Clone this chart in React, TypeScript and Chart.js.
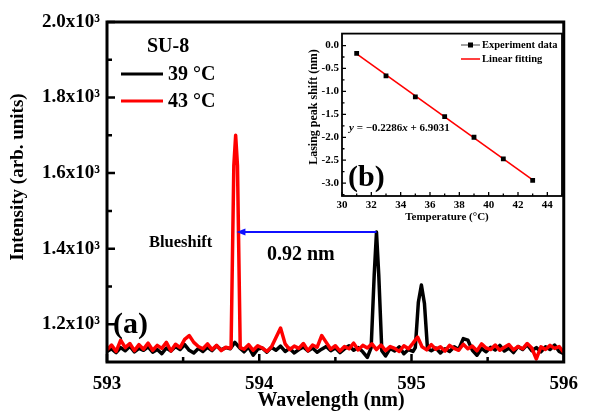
import React, { useEffect, useRef } from 'react';
import { Chart, registerables } from 'chart.js';

Chart.register(...registerables);

// ---------- main spectrum data ----------
const wavelengths = [
  593.00, 593.03, 593.06, 593.09, 593.12, 593.15, 593.18, 593.21, 593.24, 593.27,
  593.30, 593.33, 593.36, 593.39, 593.42, 593.45, 593.48, 593.51, 593.54, 593.57,
  593.60, 593.63, 593.66, 593.69, 593.72, 593.75, 593.78, 593.81, 593.84, 593.87,
  593.90, 593.93, 593.96, 593.99, 594.02, 594.05, 594.08, 594.11, 594.14, 594.17,
  594.20, 594.23, 594.26, 594.29, 594.32, 594.35, 594.38, 594.41, 594.44, 594.47,
  594.50, 594.53, 594.56, 594.59, 594.62, 594.65, 594.68, 594.71, 594.74, 594.77,
  594.80, 594.83, 594.86, 594.89, 594.92, 594.95, 594.98, 595.01, 595.04, 595.07,
  595.10, 595.13, 595.16, 595.19, 595.22, 595.25, 595.28, 595.31, 595.34, 595.37,
  595.40, 595.43, 595.46, 595.49, 595.52, 595.55, 595.58, 595.61, 595.64, 595.67,
  595.70, 595.73, 595.76, 595.79, 595.82, 595.85, 595.88, 595.91, 595.94, 595.97,
  596.00,
];

const intensity39 = [
  1128, 1135, 1125, 1138, 1130, 1142, 1127, 1136, 1131, 1140,
  1126, 1133, 1122, 1137, 1129, 1141, 1133, 1146, 1131, 1124,
  1136, 1128, 1139, 1130, 1143, 1132, 1138, 1135, 1152, 1138,
  1127, 1140, 1118, 1134, 1137, 1126, 1139, 1131, 1142, 1128,
  1136, 1124, 1133, 1140, 1129, 1137, 1126, 1134, 1141, 1130,
  1137, 1125, 1135, 1143, 1131, 1138, 1127, 1112, 1140, 1444,
  1140, 1116, 1136, 1129, 1140, 1122, 1133, 1128, 1140, 1304,
  1140, 1130, 1137, 1124, 1135, 1128, 1140, 1133, 1162, 1158,
  1131, 1118, 1136, 1127, 1139, 1132, 1144, 1129, 1137, 1125,
  1141, 1133, 1146, 1130, 1138, 1127, 1140, 1133, 1145, 1128,
  1122,
];

const intensity43 = [
  1132, 1145, 1128, 1158, 1138, 1149, 1130, 1146, 1134, 1150,
  1131, 1144, 1136, 1152, 1129, 1147, 1138, 1160, 1170, 1152,
  1141, 1135, 1148, 1133, 1144, 1130, 1139, 1136, 1700, 1140,
  1134, 1146, 1131, 1143, 1137, 1128, 1140, 1165, 1190, 1148,
  1133, 1142, 1136, 1149, 1130, 1145, 1139, 1170, 1152, 1134,
  1143, 1129, 1141, 1135, 1150, 1132, 1144, 1137, 1148, 1133,
  1145, 1130, 1141, 1136, 1128, 1143, 1135, 1150, 1166, 1140,
  1132, 1146, 1134, 1140, 1129, 1144, 1136, 1131, 1147, 1135,
  1142, 1130, 1148, 1137, 1133, 1145, 1131, 1139, 1146, 1132,
  1141, 1135, 1149, 1137, 1108, 1140, 1133, 1144, 1136, 1141,
  1125,
];

// laser peaks (finer sampling)
const peak39aX = [594.735, 594.755, 594.77, 594.785, 594.805];
const peak39aY = [1138, 1330, 1444, 1330, 1130];
const peak39bX = [595.025, 595.045, 595.065, 595.085, 595.105];
const peak39bY = [1138, 1258, 1304, 1255, 1135];
const peak43X = [593.815, 593.833, 593.845, 593.857, 593.875];
const peak43Y = [1140, 1620, 1700, 1620, 1138];

const xTicks = [593, 594, 595, 596];
const xMinorTicks = [593.5, 594.5, 595.5];
const yTicks = [1200, 1400, 1600, 1800, 2000];
const yMinorTicks = [1300, 1500, 1700, 1900];

const shiftFrom = 594.77;
const shiftTo = 593.85;
const shiftLevel = 1444;

// ---------- inset data ----------
const temperature = [31, 33, 35, 37, 39, 41, 43];
const peakShift = [-0.17, -0.66, -1.12, -1.55, -2.0, -2.47, -2.94];
const fitX = [31, 43];
const fitY = [-0.184, -2.927];
const insetXTicks = [30, 32, 34, 36, 38, 40, 42, 44];
const insetXMinor = [31, 33, 35, 37, 39, 41, 43, 45];
const insetYTicks = [0, -0.5, -1.0, -1.5, -2.0, -2.5, -3.0];
const insetYMinor = [-0.25, -0.75, -1.25, -1.75, -2.25, -2.75, -3.25];

const SERIF = "'Liberation Serif', 'Times New Roman', Times, serif";

function buildSeries(base: number[], peaks: [number[], number[]][]) {
  const pts = wavelengths
    .map((x, i) => ({ x, y: base[i] }))
    .filter((p) => !peaks.some(([px]) => p.x > px[0] && p.x < px[px.length - 1]));
  peaks.forEach(([px, py]) => px.forEach((x, i) => pts.push({ x, y: py[i] })));
  pts.sort((a, b) => a.x - b.x);
  return pts;
}

const mainPlugin = {
  id: 'mainDecor',
  afterDraw(chart: any) {
    const { ctx, chartArea: a, scales } = chart;
    const xs = scales.x;
    const ys = scales.y;
    ctx.save();
    // frame
    ctx.strokeStyle = '#000';
    ctx.lineWidth = 3;
    ctx.strokeRect(a.left, a.top, a.right - a.left, a.bottom - a.top);
    // inward ticks
    ctx.lineWidth = 2.5;
    ctx.beginPath();
    xTicks.forEach((v) => {
      const p = xs.getPixelForValue(v);
      ctx.moveTo(p, a.bottom);
      ctx.lineTo(p, a.bottom - 8);
    });
    xMinorTicks.forEach((v) => {
      const p = xs.getPixelForValue(v);
      ctx.moveTo(p, a.bottom);
      ctx.lineTo(p, a.bottom - 5);
    });
    yTicks.forEach((v) => {
      const p = ys.getPixelForValue(v);
      ctx.moveTo(a.left, p);
      ctx.lineTo(a.left + 8, p);
    });
    yMinorTicks.forEach((v) => {
      const p = ys.getPixelForValue(v);
      ctx.moveTo(a.left, p);
      ctx.lineTo(a.left + 5, p);
    });
    ctx.stroke();

    // axis titles
    ctx.fillStyle = '#000';
    ctx.font = `bold 20px ${SERIF}`;
    ctx.textAlign = 'center';
    ctx.textBaseline = 'middle';
    ctx.fillText('Wavelength (nm)', 331, 401);
    ctx.save();
    ctx.translate(18, 177);
    ctx.rotate(-Math.PI / 2);
    ctx.font = `bold 19px ${SERIF}`;
    ctx.fillText('Intensity (arb. units)', 0, 0);
    ctx.restore();

    // legend
    ctx.textAlign = 'left';
    ctx.font = `bold 20px ${SERIF}`;
    ctx.fillText('SU-8', 147, 47);
    ctx.lineWidth = 3;
    ctx.strokeStyle = '#000';
    ctx.beginPath();
    ctx.moveTo(121, 74);
    ctx.lineTo(163, 74);
    ctx.stroke();
    ctx.fillText('39 \u00B0C', 168, 75);
    ctx.strokeStyle = '#ff0000';
    ctx.beginPath();
    ctx.moveTo(121, 101);
    ctx.lineTo(163, 101);
    ctx.stroke();
    ctx.fillText('43 \u00B0C', 168, 102);

    // blueshift arrow
    const x1 = xs.getPixelForValue(shiftFrom);
    const x0 = xs.getPixelForValue(shiftTo);
    const yy = ys.getPixelForValue(shiftLevel);
    ctx.strokeStyle = '#1010ff';
    ctx.fillStyle = '#1010ff';
    ctx.lineWidth = 2;
    ctx.beginPath();
    ctx.moveTo(x1, yy);
    ctx.lineTo(x0 + 7, yy);
    ctx.stroke();
    ctx.beginPath();
    ctx.moveTo(x0, yy);
    ctx.lineTo(x0 + 9, yy - 3.5);
    ctx.lineTo(x0 + 9, yy + 3.5);
    ctx.closePath();
    ctx.fill();

    ctx.fillStyle = '#000';
    ctx.font = `bold 16.5px ${SERIF}`;
    ctx.fillText('Blueshift', 149, 243);
    ctx.font = `bold 20px ${SERIF}`;
    ctx.fillText('0.92 nm', 267, 255);
    ctx.font = `bold 30px ${SERIF}`;
    ctx.fillText('(a)', 113, 325);
    ctx.restore();
  },
};

const insetPlugin = {
  id: 'insetDecor',
  afterDraw(chart: any) {
    const { ctx, chartArea: a, scales } = chart;
    const xs = scales.x;
    const ys = scales.y;
    ctx.save();
    ctx.strokeStyle = '#000';
    ctx.lineWidth = 1.8;
    ctx.strokeRect(a.left, a.top, a.right - a.left, a.bottom - a.top);
    ctx.lineWidth = 1.3;
    ctx.beginPath();
    insetXTicks.forEach((v) => {
      const p = xs.getPixelForValue(v);
      ctx.moveTo(p, a.bottom);
      ctx.lineTo(p, a.bottom - 4);
    });
    insetXMinor.forEach((v) => {
      const p = xs.getPixelForValue(v);
      ctx.moveTo(p, a.bottom);
      ctx.lineTo(p, a.bottom - 2.5);
    });
    insetYTicks.forEach((v) => {
      const p = ys.getPixelForValue(v);
      ctx.moveTo(a.left, p);
      ctx.lineTo(a.left + 4, p);
    });
    insetYMinor.forEach((v) => {
      const p = ys.getPixelForValue(v);
      if (p > a.bottom || p < a.top) return;
      ctx.moveTo(a.left, p);
      ctx.lineTo(a.left + 2.5, p);
    });
    ctx.stroke();

    ctx.fillStyle = '#000';
    ctx.textBaseline = 'middle';
    ctx.textAlign = 'center';
    ctx.font = `bold 11px ${SERIF}`;
    ctx.fillText('Temperature (\u00B0C)', 157, 193);
    ctx.save();
    ctx.translate(24, 83);
    ctx.rotate(-Math.PI / 2);
    ctx.font = `bold 12px ${SERIF}`;
    ctx.fillText('Lasing peak shift (nm)', 0, 0);
    ctx.restore();

    // legend
    ctx.textAlign = 'left';
    ctx.strokeStyle = '#444';
    ctx.lineWidth = 1;
    ctx.beginPath();
    ctx.moveTo(171, 21);
    ctx.lineTo(190, 21);
    ctx.stroke();
    ctx.fillRect(178, 18.5, 5, 5);
    ctx.font = `bold 10.5px ${SERIF}`;
    ctx.fillText('Experiment data', 192, 21.5);
    ctx.strokeStyle = '#ff0000';
    ctx.lineWidth = 1.5;
    ctx.beginPath();
    ctx.moveTo(171, 35);
    ctx.lineTo(190, 35);
    ctx.stroke();
    ctx.fillText('Linear fitting', 192, 35.5);

    // equation
    let ex = 59;
    const ey = 104;
    const parts: [string, boolean][] = [
      ['y', true],
      [' = \u22120.2286', false],
      ['x', true],
      [' + 6.9031', false],
    ];
    parts.forEach(([t, it]) => {
      ctx.font = `${it ? 'italic ' : ''}bold 11px ${SERIF}`;
      ctx.fillText(t, ex, ey);
      ex += ctx.measureText(t).width;
    });

    ctx.font = `bold 30px ${SERIF}`;
    ctx.fillText('(b)', 58, 154);
    ctx.restore();
  },
};

export default function App() {
  const mainRef = useRef<HTMLCanvasElement>(null);
  const insetRef = useRef<HTMLCanvasElement>(null);

  useEffect(() => {
    const tickFont = { family: SERIF, size: 19, weight: 'bold' as const };
    const main = new Chart(mainRef.current!, {
      type: 'line',
      data: {
        datasets: [
          {
            label: '39 \u00B0C',
            data: buildSeries(intensity39, [
              [peak39aX, peak39aY],
              [peak39bX, peak39bY],
            ]),
            borderColor: '#000000',
            borderWidth: 3.5,
            pointRadius: 0,
            tension: 0,
            borderJoinStyle: 'round',
            order: 1,
          },
          {
            label: '43 \u00B0C',
            data: buildSeries(intensity43, [[peak43X, peak43Y]]),
            borderColor: '#ff0000',
            borderWidth: 3.5,
            pointRadius: 0,
            tension: 0,
            borderJoinStyle: 'round',
            order: 0,
          },
        ],
      },
      options: {
        animation: false,
        responsive: false,
        devicePixelRatio: 1,
        layout: { padding: { left: 0, top: 22, right: 17, bottom: 0 } },
        plugins: { legend: { display: false }, tooltip: { enabled: false } },
        scales: {
          x: {
            type: 'linear',
            min: 593,
            max: 596,
            afterBuildTicks: (s: any) => {
              s.ticks = xTicks.map((v) => ({ value: v }));
            },
            afterFit: (s: any) => {
              s.height = 56;
            },
            grid: { display: false, drawTicks: false },
            border: { display: false },
            ticks: {
              padding: 11,
              color: '#000',
              font: tickFont,
              maxRotation: 0,
              autoSkip: false,
              callback: (v: any) => String(v),
            },
          },
          y: {
            type: 'linear',
            min: 1100,
            max: 2000,
            afterBuildTicks: (s: any) => {
              s.ticks = yTicks.map((v) => ({ value: v }));
            },
            afterFit: (s: any) => {
              s.width = 107;
            },
            grid: { display: false, drawTicks: false },
            border: { display: false },
            ticks: {
              padding: 7,
              color: '#000',
              font: tickFont,
              autoSkip: false,
              callback: (v: any) => (Number(v) / 1000).toFixed(1) + 'x10\u00B3',
            },
          },
        },
      },
      plugins: [mainPlugin],
    });

    const insetFont = { family: SERIF, size: 11, weight: 'bold' as const };
    const inset = new Chart(insetRef.current!, {
      type: 'line',
      data: {
        datasets: [
          {
            label: 'Experiment data',
            data: temperature.map((t, i) => ({ x: t, y: peakShift[i] })),
            showLine: false,
            pointStyle: 'rect',
            pointRadius: 3.4,
            pointBackgroundColor: '#000',
            pointBorderColor: '#000',
            pointBorderWidth: 0,
            borderColor: '#000',
            order: 0,
          },
          {
            label: 'Linear fitting',
            data: fitX.map((t, i) => ({ x: t, y: fitY[i] })),
            borderColor: '#ff0000',
            borderWidth: 1.6,
            pointRadius: 0,
            tension: 0,
            order: 1,
          },
        ],
      },
      options: {
        animation: false,
        responsive: false,
        devicePixelRatio: 1,
        layout: { padding: { left: 0, top: 9, right: 18, bottom: 0 } },
        plugins: { legend: { display: false }, tooltip: { enabled: false } },
        scales: {
          x: {
            type: 'linear',
            min: 30,
            max: 45,
            afterBuildTicks: (s: any) => {
              s.ticks = insetXTicks.map((v) => ({ value: v }));
            },
            afterFit: (s: any) => {
              s.height = 28;
            },
            grid: { display: false, drawTicks: false },
            border: { display: false },
            ticks: {
              padding: 3,
              color: '#000',
              font: insetFont,
              maxRotation: 0,
              autoSkip: false,
              callback: (v: any) => String(v),
            },
          },
          y: {
            type: 'linear',
            min: -3.28,
            max: 0.26,
            afterBuildTicks: (s: any) => {
              s.ticks = insetYTicks.map((v) => ({ value: v }));
            },
            afterFit: (s: any) => {
              s.width = 52;
            },
            grid: { display: false, drawTicks: false },
            border: { display: false },
            ticks: {
              padding: 3,
              color: '#000',
              font: insetFont,
              autoSkip: false,
              callback: (v: any) => Number(v).toFixed(1),
            },
          },
        },
      },
      plugins: [insetPlugin],
    });

    return () => {
      main.destroy();
      inset.destroy();
    };
  }, []);

  return (
    <div
      style={{
        position: 'fixed',
        left: 0,
        top: 0,
        width: 589,
        height: 418,
        background: '#fff',
        overflow: 'hidden',
      }}
    >
      <canvas
        ref={mainRef}
        width={589}
        height={418}
        style={{ position: 'absolute', left: 0, top: 0, width: 589, height: 418 }}
      />
      <canvas
        ref={insetRef}
        width={290}
        height={200}
        style={{ position: 'absolute', left: 290, top: 24, width: 290, height: 200 }}
      />
    </div>
  );
}
